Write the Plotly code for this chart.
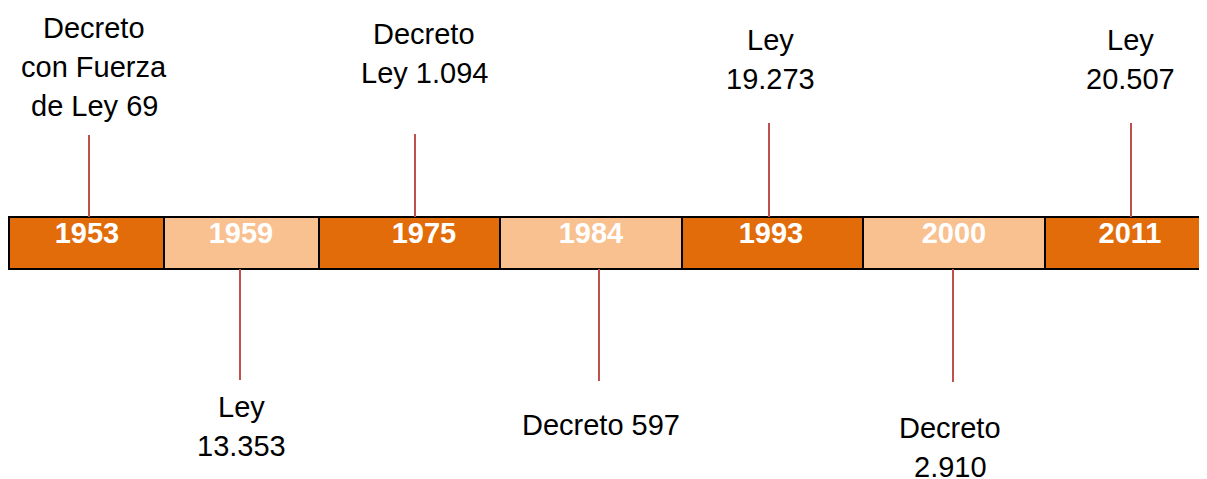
import plotly.graph_objects as go

# timeline data
years = ["1953", "1959", "1975", "1984", "1993", "2000", "2011"]
events = [
    "Decreto<br>con Fuerza<br>de Ley 69",
    "Ley<br>13.353",
    "Decreto<br>Ley 1.094",
    "Decreto 597",
    "Ley<br>19.273",
    "Decreto<br>2.910",
    "Ley<br>20.507",
]
sides = ["top", "bottom", "top", "bottom", "top", "bottom", "top"]

# layout (page pixel units, y grows downwards); page body has an 8px margin
W, H = 1207, 479
OFF = 8
edges = [9, 164, 319, 500, 682, 863, 1045, 1215]
bar_top, bar_bot = 217, 269
year_x = [87, 241, 424, 591, 771, 954, 1130]
year_y = 236
link_x = [89, 240, 415, 599, 769, 953, 1131]
link_end = [135, 380, 134, 381, 123, 382, 123]
label_x = [94, 241, 424, 601, 770, 950, 1130]
label_y0 = [28, 407, 34, 425, 40, 428, 40]  # centre of first line
line_gap = 39

dark = "#E36C0A"
light = "#F9C090"
red = "#C0504D"
font = "Liberation Sans, Arial"

fig = go.Figure()

centers = [(a + b) / 2 for a, b in zip(edges[:-1], edges[1:])]
widths = [b - a for a, b in zip(edges[:-1], edges[1:])]
fig.add_trace(go.Bar(
    x=centers, width=widths, y=[bar_bot - bar_top] * len(years), base=bar_top,
    marker=dict(color=[dark if i % 2 == 0 else light for i in range(len(years))],
                line=dict(color="black", width=2)),
    hoverinfo="skip",
))

fig.add_trace(go.Scatter(
    x=year_x, y=[year_y] * len(years), mode="text", text=years,
    textfont=dict(family=font, size=29, color="white", weight="bold"),
    hoverinfo="skip",
))

# connectors
lx, ly = [], []
for s, x, e in zip(sides, link_x, link_end):
    y0 = bar_top if s == "top" else bar_bot
    lx += [x, x, None]
    ly += [e, y0, None]
fig.add_trace(go.Scatter(x=lx, y=ly, mode="lines",
                         line=dict(color=red, width=2), hoverinfo="skip"))

for txt, x, y in zip(events, label_x, label_y0):
    for k, part in enumerate(txt.split("<br>")):
        fig.add_annotation(x=x, y=y + k * line_gap, text=part, showarrow=False,
                           xanchor="center", yanchor="middle",
                           font=dict(family=font, size=29, color="black"))

fig.update_layout(
    width=W - OFF, height=H - OFF, margin=dict(l=0, r=0, t=0, b=0),
    paper_bgcolor="white", plot_bgcolor="white", showlegend=False,
    xaxis=dict(range=[OFF, W], visible=False, fixedrange=True),
    yaxis=dict(range=[H, OFF], visible=False, fixedrange=True),
    bargap=0,
)

fig.write_html("out.html")
